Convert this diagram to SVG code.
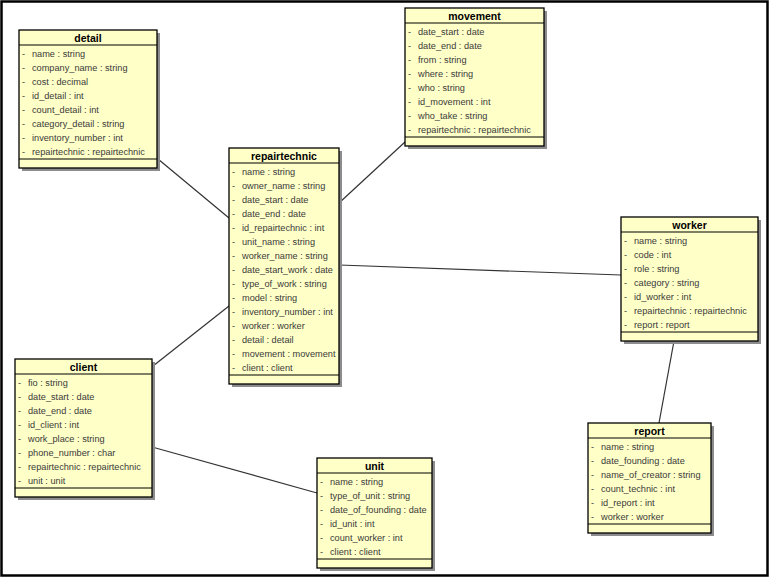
<svg xmlns="http://www.w3.org/2000/svg" width="770" height="578" viewBox="0 0 770 578">
<style>
.frame{fill:#fff;stroke:#000;stroke-width:2.5}
.sh{fill:#8c8c8c}
.box{fill:#FFFFC8;stroke:#000;stroke-width:1.3}
.sep{stroke:#000;stroke-width:1.2}
.hd{font-family:"Liberation Sans",Arial,sans-serif;font-size:10.5px;font-weight:bold;fill:#000;text-anchor:middle}
.r{font-family:"Liberation Sans",Arial,sans-serif;font-size:9.2px;fill:#3a3a3a}
.c{stroke:#333;stroke-width:1.2;fill:none}
</style>
<rect class="frame" x="1.5" y="1.5" width="766" height="574"/>
<g id="connectors">
<line class="c" x1="158" y1="159" x2="229" y2="218"/>
<line class="c" x1="339" y1="203" x2="405" y2="142"/>
<line class="c" x1="339" y1="265" x2="621" y2="275"/>
<line class="c" x1="153" y1="366" x2="229" y2="306"/>
<line class="c" x1="152" y1="447" x2="317" y2="493"/>
<line class="c" x1="674" y1="341" x2="659" y2="423"/>
</g>
<g id="detail" transform="translate(19,30)">
<rect class="sh" x="3" y="3" width="138" height="138"/>
<rect class="box" x="0" y="0" width="138" height="138"/>
<text class="hd" x="69" y="11.5">detail</text>
<line class="sep" x1="0" y1="15" x2="138" y2="15"/>
<text class="r" y="26.5"><tspan x="3">-</tspan><tspan x="13">name : string</tspan></text>
<text class="r" y="40.5"><tspan x="3">-</tspan><tspan x="13">company_name : string</tspan></text>
<text class="r" y="54.5"><tspan x="3">-</tspan><tspan x="13">cost : decimal</tspan></text>
<text class="r" y="68.5"><tspan x="3">-</tspan><tspan x="13">id_detail : int</tspan></text>
<text class="r" y="82.5"><tspan x="3">-</tspan><tspan x="13">count_detail : int</tspan></text>
<text class="r" y="96.5"><tspan x="3">-</tspan><tspan x="13">category_detail : string</tspan></text>
<text class="r" y="110.5"><tspan x="3">-</tspan><tspan x="13">inventory_number : int</tspan></text>
<text class="r" y="124.5"><tspan x="3">-</tspan><tspan x="13">repairtechnic : repairtechnic</tspan></text>
<line class="sep" x1="0" y1="129" x2="138" y2="129"/>
</g>
<g id="repairtechnic" transform="translate(229,148)">
<rect class="sh" x="3" y="3" width="110" height="236"/>
<rect class="box" x="0" y="0" width="110" height="236"/>
<text class="hd" x="55" y="11.5">repairtechnic</text>
<line class="sep" x1="0" y1="15" x2="110" y2="15"/>
<text class="r" y="26.5"><tspan x="3">-</tspan><tspan x="13">name : string</tspan></text>
<text class="r" y="40.5"><tspan x="3">-</tspan><tspan x="13">owner_name : string</tspan></text>
<text class="r" y="54.5"><tspan x="3">-</tspan><tspan x="13">date_start : date</tspan></text>
<text class="r" y="68.5"><tspan x="3">-</tspan><tspan x="13">date_end : date</tspan></text>
<text class="r" y="82.5"><tspan x="3">-</tspan><tspan x="13">id_repairtechnic : int</tspan></text>
<text class="r" y="96.5"><tspan x="3">-</tspan><tspan x="13">unit_name : string</tspan></text>
<text class="r" y="110.5"><tspan x="3">-</tspan><tspan x="13">worker_name : string</tspan></text>
<text class="r" y="124.5"><tspan x="3">-</tspan><tspan x="13">date_start_work : date</tspan></text>
<text class="r" y="138.5"><tspan x="3">-</tspan><tspan x="13">type_of_work : string</tspan></text>
<text class="r" y="152.5"><tspan x="3">-</tspan><tspan x="13">model : string</tspan></text>
<text class="r" y="166.5"><tspan x="3">-</tspan><tspan x="13">inventory_number : int</tspan></text>
<text class="r" y="180.5"><tspan x="3">-</tspan><tspan x="13">worker : worker</tspan></text>
<text class="r" y="194.5"><tspan x="3">-</tspan><tspan x="13">detail : detail</tspan></text>
<text class="r" y="208.5"><tspan x="3">-</tspan><tspan x="13">movement : movement</tspan></text>
<text class="r" y="222.5"><tspan x="3">-</tspan><tspan x="13">client : client</tspan></text>
<line class="sep" x1="0" y1="227" x2="110" y2="227"/>
</g>
<g id="movement" transform="translate(405,8)">
<rect class="sh" x="3" y="3" width="139" height="138"/>
<rect class="box" x="0" y="0" width="139" height="138"/>
<text class="hd" x="69.5" y="11.5">movement</text>
<line class="sep" x1="0" y1="15" x2="139" y2="15"/>
<text class="r" y="26.5"><tspan x="3">-</tspan><tspan x="13">date_start : date</tspan></text>
<text class="r" y="40.5"><tspan x="3">-</tspan><tspan x="13">date_end : date</tspan></text>
<text class="r" y="54.5"><tspan x="3">-</tspan><tspan x="13">from : string</tspan></text>
<text class="r" y="68.5"><tspan x="3">-</tspan><tspan x="13">where : string</tspan></text>
<text class="r" y="82.5"><tspan x="3">-</tspan><tspan x="13">who : string</tspan></text>
<text class="r" y="96.5"><tspan x="3">-</tspan><tspan x="13">id_movement : int</tspan></text>
<text class="r" y="110.5"><tspan x="3">-</tspan><tspan x="13">who_take : string</tspan></text>
<text class="r" y="124.5"><tspan x="3">-</tspan><tspan x="13">repairtechnic : repairtechnic</tspan></text>
<line class="sep" x1="0" y1="129" x2="139" y2="129"/>
</g>
<g id="worker" transform="translate(621,217)">
<rect class="sh" x="3" y="3" width="137" height="124"/>
<rect class="box" x="0" y="0" width="137" height="124"/>
<text class="hd" x="68.5" y="11.5">worker</text>
<line class="sep" x1="0" y1="15" x2="137" y2="15"/>
<text class="r" y="26.5"><tspan x="3">-</tspan><tspan x="13">name : string</tspan></text>
<text class="r" y="40.5"><tspan x="3">-</tspan><tspan x="13">code : int</tspan></text>
<text class="r" y="54.5"><tspan x="3">-</tspan><tspan x="13">role : string</tspan></text>
<text class="r" y="68.5"><tspan x="3">-</tspan><tspan x="13">category : string</tspan></text>
<text class="r" y="82.5"><tspan x="3">-</tspan><tspan x="13">id_worker : int</tspan></text>
<text class="r" y="96.5"><tspan x="3">-</tspan><tspan x="13">repairtechnic : repairtechnic</tspan></text>
<text class="r" y="110.5"><tspan x="3">-</tspan><tspan x="13">report : report</tspan></text>
<line class="sep" x1="0" y1="115" x2="137" y2="115"/>
</g>
<g id="report" transform="translate(588,423)">
<rect class="sh" x="3" y="3" width="123" height="110"/>
<rect class="box" x="0" y="0" width="123" height="110"/>
<text class="hd" x="61.5" y="11.5">report</text>
<line class="sep" x1="0" y1="15" x2="123" y2="15"/>
<text class="r" y="26.5"><tspan x="3">-</tspan><tspan x="13">name : string</tspan></text>
<text class="r" y="40.5"><tspan x="3">-</tspan><tspan x="13">date_founding : date</tspan></text>
<text class="r" y="54.5"><tspan x="3">-</tspan><tspan x="13">name_of_creator : string</tspan></text>
<text class="r" y="68.5"><tspan x="3">-</tspan><tspan x="13">count_technic : int</tspan></text>
<text class="r" y="82.5"><tspan x="3">-</tspan><tspan x="13">id_report : int</tspan></text>
<text class="r" y="96.5"><tspan x="3">-</tspan><tspan x="13">worker : worker</tspan></text>
<line class="sep" x1="0" y1="101" x2="123" y2="101"/>
</g>
<g id="client" transform="translate(15,359)">
<rect class="sh" x="3" y="3" width="137" height="138"/>
<rect class="box" x="0" y="0" width="137" height="138"/>
<text class="hd" x="68.5" y="11.5">client</text>
<line class="sep" x1="0" y1="15" x2="137" y2="15"/>
<text class="r" y="26.5"><tspan x="3">-</tspan><tspan x="13">fio : string</tspan></text>
<text class="r" y="40.5"><tspan x="3">-</tspan><tspan x="13">date_start : date</tspan></text>
<text class="r" y="54.5"><tspan x="3">-</tspan><tspan x="13">date_end : date</tspan></text>
<text class="r" y="68.5"><tspan x="3">-</tspan><tspan x="13">id_client : int</tspan></text>
<text class="r" y="82.5"><tspan x="3">-</tspan><tspan x="13">work_place : string</tspan></text>
<text class="r" y="96.5"><tspan x="3">-</tspan><tspan x="13">phone_number : char</tspan></text>
<text class="r" y="110.5"><tspan x="3">-</tspan><tspan x="13">repairtechnic : repairtechnic</tspan></text>
<text class="r" y="124.5"><tspan x="3">-</tspan><tspan x="13">unit : unit</tspan></text>
<line class="sep" x1="0" y1="129" x2="137" y2="129"/>
</g>
<g id="unit" transform="translate(317,458)">
<rect class="sh" x="3" y="3" width="115" height="110"/>
<rect class="box" x="0" y="0" width="115" height="110"/>
<text class="hd" x="57.5" y="11.5">unit</text>
<line class="sep" x1="0" y1="15" x2="115" y2="15"/>
<text class="r" y="26.5"><tspan x="3">-</tspan><tspan x="13">name : string</tspan></text>
<text class="r" y="40.5"><tspan x="3">-</tspan><tspan x="13">type_of_unit : string</tspan></text>
<text class="r" y="54.5"><tspan x="3">-</tspan><tspan x="13">date_of_founding : date</tspan></text>
<text class="r" y="68.5"><tspan x="3">-</tspan><tspan x="13">id_unit : int</tspan></text>
<text class="r" y="82.5"><tspan x="3">-</tspan><tspan x="13">count_worker : int</tspan></text>
<text class="r" y="96.5"><tspan x="3">-</tspan><tspan x="13">client : client</tspan></text>
<line class="sep" x1="0" y1="101" x2="115" y2="101"/>
</g>
</svg>
